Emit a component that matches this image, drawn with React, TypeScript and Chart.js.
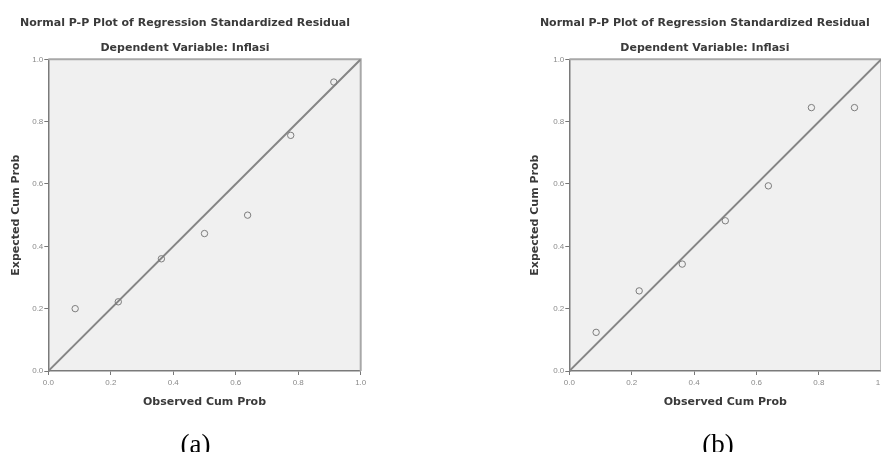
import React, { useEffect, useRef } from "react";
import { Chart, registerables } from "chart.js";

Chart.register(...registerables);

const TITLE = "Normal P-P Plot of Regression Standardized Residual";
const SUBTITLE = "Dependent Variable: Inflasi";
const X_TITLE = "Observed Cum Prob";
const Y_TITLE = "Expected Cum Prob";

const observedCumProb = [0.086, 0.224, 0.362, 0.5, 0.638, 0.776, 0.914];
const expectedCumProbA = [0.2, 0.222, 0.36, 0.441, 0.5, 0.756, 0.927];
const expectedCumProbB = [0.124, 0.257, 0.343, 0.482, 0.594, 0.845, 0.845];
const diagonalX = [0, 1];
const diagonalY = [0, 1];
const tickMin = 0;
const tickMax = 1;
const tickStep = 0.2;
const captions = ["(a)", "(b)"];

const SANS = "'Liberation Sans', Arial, sans-serif";
const TITLE_FONT = "'DejaVu Sans', 'Liberation Sans', sans-serif";

const framePlugin = {
  id: "ppFrame",
  beforeDraw(chart: any) {
    const { ctx, chartArea: a } = chart;
    ctx.save();
    ctx.fillStyle = "#f0f0f0";
    ctx.fillRect(a.left, a.top, a.right - a.left, a.bottom - a.top);
    ctx.restore();
  },
  beforeDatasetsDraw(chart: any) {
    const { ctx, chartArea: a } = chart;
    ctx.save();
    ctx.strokeStyle = "#a8a8a8";
    ctx.lineWidth = 2;
    ctx.beginPath();
    ctx.moveTo(a.left, a.top);
    ctx.lineTo(a.right, a.top);
    ctx.lineTo(a.right, a.bottom);
    ctx.stroke();
    ctx.restore();
  },
};

type PanelProps = {
  left: number;
  width: number;
  expected: number[];
  padLeft: number;
  padRight: number;
  yAxisWidth: number;
};

function PPPanel({ left, width, expected, padLeft, padRight, yAxisWidth }: PanelProps) {
  const ref = useRef<HTMLCanvasElement | null>(null);
  const height = 452;
  useEffect(() => {
    if (!ref.current) return;
    const points = observedCumProb.map((x, i) => ({ x, y: expected[i] }));
    const line = diagonalX.map((x, i) => ({ x, y: diagonalY[i] }));
    const titleFont = { family: TITLE_FONT, size: 11, weight: "bold", lineHeight: 1.2 };
    const axisCommon = {
      type: "linear" as const,
      min: tickMin,
      max: tickMax,
      ticks: {
        stepSize: tickStep,
        color: "#8a8a8a",
        font: { family: SANS, size: 8 },
        callback: (v: any) => Number(v).toFixed(1),
      },
      grid: {
        display: true,
        drawOnChartArea: false,
        drawTicks: true,
        tickLength: 4,
        color: "#777",
        lineWidth: 1,
      },
      border: { display: true, color: "#7a7a7a", width: 1.5 },
    };
    const chart = new Chart(ref.current, {
      type: "scatter",
      data: {
        datasets: [
          {
            data: line,
            showLine: true,
            borderColor: "#858585",
            borderWidth: 2,
            pointRadius: 0,
            pointHoverRadius: 0,
            order: 2,
          },
          {
            data: points,
            showLine: false,
            pointStyle: "circle",
            pointRadius: 3.2,
            borderWidth: 1,
            borderColor: "#7d7d7d",
            backgroundColor: "rgba(0,0,0,0)",
            order: 1,
          },
        ],
      },
      options: {
        responsive: false,
        animation: false,
        devicePixelRatio: 1,
        layout: { padding: { left: padLeft, right: padRight, top: 0, bottom: 42.9 } },
        plugins: {
          legend: { display: false },
          tooltip: { enabled: false },
          title: {
            display: true,
            text: TITLE,
            color: "#3a3a3a",
            font: titleFont,
            padding: { top: 16.4, bottom: 11.8 },
          },
          subtitle: {
            display: true,
            text: SUBTITLE,
            color: "#3a3a3a",
            font: titleFont,
            padding: { top: 0, bottom: 4.7 },
          },
        },
        scales: {
          x: {
            ...axisCommon,
            position: "bottom",
            ticks: { ...axisCommon.ticks, padding: 3, maxRotation: 0 },
            title: {
              display: true,
              text: X_TITLE,
              color: "#3a3a3a",
              font: titleFont,
              padding: { top: 0, bottom: 0 },
            },
            afterFit: (s: any) => {
              s.height = 38.1;
            },
          },
          y: {
            ...axisCommon,
            position: "left",
            ticks: { ...axisCommon.ticks, padding: 1 },
            title: {
              display: true,
              text: Y_TITLE,
              color: "#3a3a3a",
              font: titleFont,
              padding: { top: 0, bottom: 0 },
            },
            afterFit: (s: any) => {
              s.width = yAxisWidth;
            },
          },
        },
      } as any,
      plugins: [framePlugin],
    });
    return () => chart.destroy();
  }, []);
  return (
    <canvas
      ref={ref}
      width={width}
      height={height}
      style={{ position: "absolute", left, top: 0, width, height }}
    />
  );
}

export default function App() {
  return (
    <div
      style={{
        position: "absolute",
        left: 0,
        top: 0,
        width: 881,
        height: 452,
        overflow: "hidden",
        background: "#fff",
      }}
    >
      <PPPanel left={0} width={440} expected={expectedCumProbA} padLeft={9.4} padRight={79.3} yAxisWidth={38.9} />
      <PPPanel left={440} width={460} expected={expectedCumProbB} padLeft={88.4} padRight={18.7} yAxisWidth={40.9} />
      {captions.map((c, i) => (
        <div
          key={c}
          style={{
            position: "absolute",
            left: i === 0 ? 145.5 : 668,
            width: 100,
            top: 431,
            textAlign: "center",
            fontFamily: "'Liberation Serif', 'Times New Roman', serif",
            fontSize: 27,
            lineHeight: "27px",
            color: "#000",
          }}
        >
          {c}
        </div>
      ))}
    </div>
  );
}
